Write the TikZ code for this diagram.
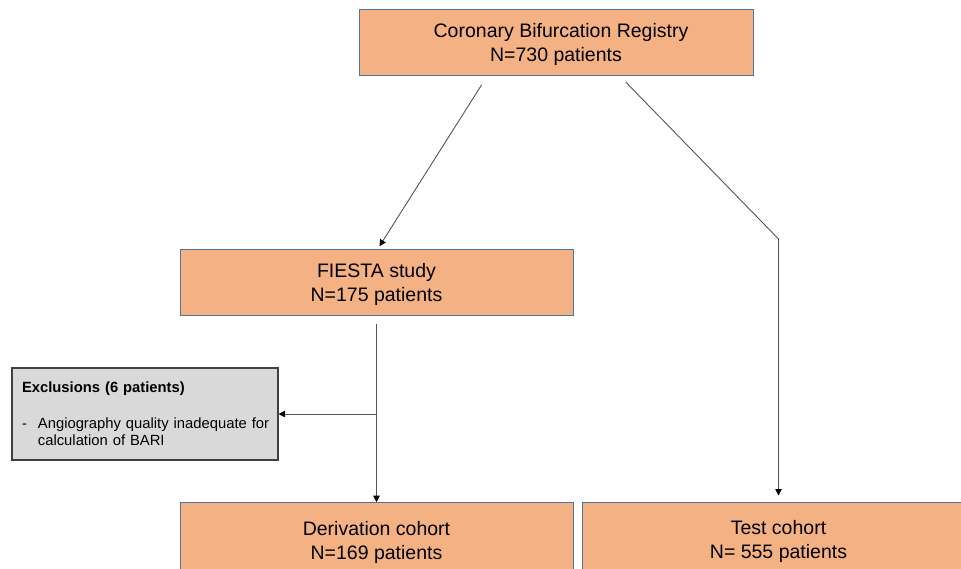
\documentclass[tikz,border=0pt]{standalone}
\usepackage{fontspec}
\setmainfont{Liberation Sans}
\usetikzlibrary{arrows.meta}
\definecolor{boxfill}{HTML}{F4B183}
\definecolor{boxline}{HTML}{52749A}
\definecolor{greyfill}{HTML}{D9D9D9}
\definecolor{greyline}{HTML}{404040}
\definecolor{linkclr}{HTML}{555555}
\newcommand{\mystrut}{\rule{0pt}{18.8pt}}
\begin{document}
\begin{tikzpicture}[x=1pt,y=-1pt,
  mainbox/.style={draw=boxline, fill=boxfill, line width=1pt, minimum width=393pt, minimum height=66pt, inner sep=0pt, align=center, font=\fontsize{19.5}{24}\selectfont},
  exclbox/.style={draw=greyline, fill=greyfill, line width=1.1pt, minimum width=266pt, minimum height=92pt, inner xsep=10pt, inner ysep=0pt, text width=246pt, align=left, font=\fontsize{14.8}{17}\selectfont},
  link/.style={draw=linkclr, line width=0.9pt, -{Triangle[length=6.5pt,width=6.5pt,color=black,fill=black]}}]
\useasboundingbox (0,0) rectangle (961,568);
\clip (0,0) rectangle (961,568);
\node[mainbox, minimum width=394pt] (reg) at (556,42) {\mystrut\hspace*{10pt}Coronary Bifurcation Registry\\N=730 patients};
\node[mainbox] (fiesta) at (376.5,282) {\mystrut FIESTA study\\N=175 patients};
\node[mainbox, minimum height=74pt] (deriv) at (376.5,539.7) {\mystrut Derivation cohort\\N=169 patients};
\node[mainbox, minimum height=74pt] (test) at (778.5,539) {\mystrut Test cohort\\N= 555 patients};
\node[exclbox] (excl) at (145,414) {\begin{tabular}{@{}l@{\hspace{11pt}}l@{}}\multicolumn{2}{@{}l@{}}{\rule{0pt}{16pt}\bfseries Exclusions (6 patients)}\\[19pt]
-& Angiography quality inadequate for\\
 & calculation of BARI
\end{tabular}};
\coordinate (t1) at (481.7,84.7);
\coordinate (t2) at (625.7,82);
\coordinate (kink) at (778.5,239);
\coordinate (f0) at ([yshift=-8pt]fiesta.south);
\coordinate (fin) at ([xshift=3pt,yshift=2.3pt]fiesta.north);
\draw[link] (t1) -- (fin);
\draw[link, shorten >=6pt] (t2) -- (kink) -- (kink |- test.north);
\draw[link] (f0) -- (deriv.north);
\draw[link] (f0 |- excl.east) -- (excl.east);
\end{tikzpicture}
\end{document}
